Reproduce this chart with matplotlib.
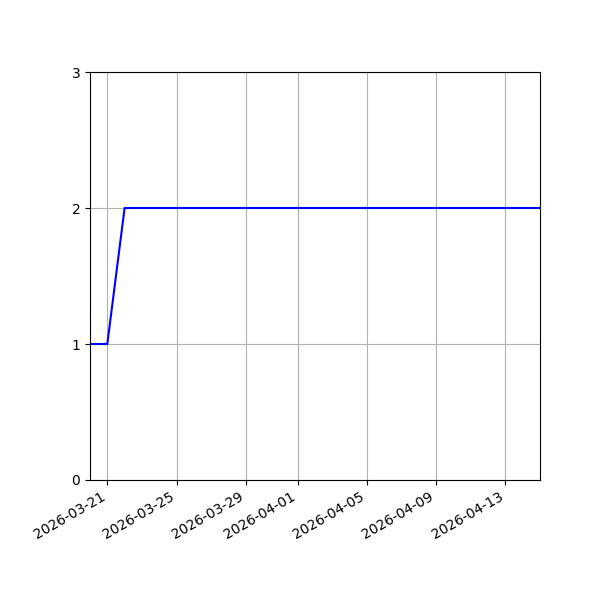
import datetime
import matplotlib
matplotlib.use("Agg")
import matplotlib.pyplot as plt

start = datetime.date(2026, 3, 20)
dates = [start + datetime.timedelta(days=i) for i in range(27)]
counts = [1, 1] + [2] * 25

fig, ax = plt.subplots(figsize=(6, 6), dpi=100)
ax.plot(dates, counts, color='blue')
ax.set_xlim(dates[0], dates[-1])
ax.set_ylim(0, 3)
ax.set_yticks([0, 1, 2, 3])
ax.grid(True)
fig.autofmt_xdate()
fig.subplots_adjust(left=0.15)
fig.savefig("out.png")
